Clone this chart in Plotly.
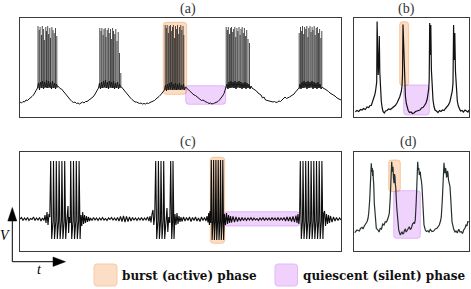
import plotly.graph_objects as go

W, H = 471, 289

# ---------------- data (t in s, V in mV) ----------------
# Panel (a): slow wave (incl. noisy burst plateaus)
a_trace = [
    (0.0,-59),(0.15,-60),(0.3,-58.5),(0.45,-59),(0.6,-57),(0.75,-57.5),(0.9,-56),(1.05,-55),(1.2,-53.5),(1.35,-52),(1.5,-49.5),(1.65,-47),
    (1.75,-45),(1.85,-40),(1.95,-47),(2.05,-39),(2.15,-45),(2.25,-38),(2.35,-46),(2.45,-39),(2.55,-44),(2.65,-37),(2.75,-45),(2.85,-38),(2.95,-44),(3.05,-39),(3.15,-46),(3.25,-38),(3.35,-45),(3.45,-40),(3.55,-46),(3.65,-41),(3.75,-44),
    (3.85,-43.5),(4.0,-45.5),(4.15,-46),(4.3,-48),(4.45,-49),(4.6,-51),(4.75,-53),(4.9,-55.5),(5.05,-57),(5.2,-58.5),(5.35,-59.5),(5.5,-59),(5.65,-60.5),(5.8,-60),(5.95,-61),(6.1,-60),(6.25,-59),(6.4,-60),(6.55,-58.5),(6.7,-58.5),(6.85,-57.5),(7.0,-56.5),(7.15,-55.5),(7.3,-54),(7.45,-52),(7.6,-49.5),(7.75,-46.5),
    (7.85,-45),(7.95,-40),(8.05,-46),(8.15,-39),(8.25,-45),(8.35,-38),(8.45,-44),(8.55,-37),(8.65,-45),(8.75,-39),(8.85,-46),(8.95,-38),(9.05,-44),(9.15,-39),(9.25,-45),(9.35,-38),(9.45,-46),(9.55,-40),(9.65,-45),(9.75,-39),(9.85,-46),(9.95,-41),(10.05,-44),
    (10.15,-44),(10.3,-46),(10.45,-47.5),(10.6,-49),(10.75,-51.5),(10.9,-53),(11.05,-55),(11.2,-56.5),(11.35,-57.5),(11.5,-59),(11.65,-59),(11.8,-60),(11.95,-60.5),(12.1,-60),(12.25,-61),(12.4,-60.5),(12.55,-61),(12.7,-60),(12.85,-60.5),(13.0,-59.5),(13.15,-59),(13.3,-58),(13.45,-57.5),(13.6,-56),(13.75,-55),(13.9,-53.5),(14.05,-52),(14.2,-50.5),(14.35,-48),
    (14.45,-47),(14.55,-42),(14.65,-48),(14.75,-41),(14.85,-47),(14.95,-40),(15.05,-46),(15.15,-39),(15.25,-47),(15.35,-41),(15.45,-46),(15.55,-40),(15.65,-47),(15.75,-41),(15.85,-46),(15.95,-40),(16.05,-47),(16.15,-42),(16.25,-46),(16.35,-41),(16.45,-47),(16.55,-44),
    (16.65,-45),(16.8,-46.5),(16.95,-48),(17.1,-49),(17.25,-50.5),(17.4,-52),(17.55,-52.5),(17.7,-54),(17.85,-55.5),(18.0,-56),(18.15,-57.5),(18.3,-57),(18.45,-58.5),(18.6,-59),(18.75,-59.5),(18.9,-60.5),(19.05,-60),(19.2,-61),(19.35,-60.5),(19.5,-60),(19.65,-59.5),(19.8,-58.5),(19.95,-57),(20.1,-55.5),(20.25,-53),(20.4,-50.5),(20.5,-47),
    (20.6,-46),(20.7,-41),(20.8,-46),(20.9,-39),(21.0,-45),(21.1,-38),(21.2,-44),(21.3,-39),(21.4,-45),(21.5,-38),(21.6,-46),(21.7,-39),(21.8,-44),(21.9,-38),(22.0,-45),(22.1,-39),(22.2,-46),(22.3,-40),(22.4,-45),(22.5,-39),(22.6,-46),(22.7,-40),(22.8,-45),(22.9,-41),(23.0,-46),(23.1,-43),
    (23.2,-45),(23.35,-46),(23.5,-47),(23.65,-48),(23.8,-50),(23.95,-51),(24.1,-52),(24.25,-55),(24.4,-54),(24.55,-57),(24.7,-57.5),(24.85,-58),(25.0,-58),(25.15,-58.5),(25.3,-59),(25.45,-58.5),(25.6,-59.5),(25.75,-59),(25.9,-58),(26.05,-58.5),(26.2,-57),(26.35,-56),(26.5,-54),(26.65,-55.5),(26.8,-55),(26.95,-54),(27.1,-53),(27.25,-52),(27.4,-51),(27.55,-49),(27.7,-47.5),(27.85,-45.5),
    (27.9,-46),(28.0,-41),(28.1,-46),(28.2,-39),(28.3,-45),(28.4,-38),(28.5,-44),(28.6,-39),(28.7,-46),(28.8,-38),(28.9,-45),(29.0,-39),(29.1,-44),(29.2,-38),(29.3,-46),(29.4,-39),(29.5,-45),(29.6,-40),(29.7,-46),(29.8,-39),(29.9,-45),(30.0,-41),(30.1,-46),(30.25,-44),
    (30.35,-45.5),(30.5,-46),(30.7,-47),(30.85,-48.5),(31.0,-50),(31.2,-51),(31.35,-52.5),(31.5,-53),(31.7,-55),(31.85,-56),(32.1,-57),
]
# Panel (a): spikes of each burst (times, peak voltages) and spike base per burst
a_spike_times = [
    [1.80,1.92,2.01,2.15,2.23,2.36,2.44,2.58,2.65,2.77,2.86,2.98,3.05,3.19,3.30,3.42,3.55,3.68],
    [7.98,8.10,8.19,8.31,8.40,8.52,8.60,8.72,8.83,8.92,9.05,9.14,9.26,9.35,9.48,9.58,9.70,9.82,9.95,10.08],
    [14.52,14.63,14.72,14.84,14.93,15.05,15.13,15.25,15.34,15.45,15.55,15.66,15.75,15.87,15.96,16.08,16.18,16.30,16.38],
    [20.62,20.74,20.83,20.95,21.06,21.15,21.27,21.36,21.48,21.57,21.69,21.78,21.90,22.01,22.10,22.22,22.33,22.44,22.56,22.67,22.80,22.95],
    [27.92,28.05,28.16,28.25,28.37,28.46,28.58,28.68,28.79,28.88,29.00,29.10,29.21,29.30,29.42,29.52,29.63,29.74,29.85,29.96,30.08,30.18],
]
a_spike_peaks = [
    [17,13,16,8,17,14,3,16,12,17,9,15,5,16,13,10,15,7],
    [15,12,15,8,14,15,6,13,15,10,14,4,15,12,9,14,2,11,-10,-30],
    [18,15,18,10,17,18,12,16,18,5,17,14,18,9,16,18,13,17,8],
    [16,13,16,9,15,16,11,14,16,6,15,12,16,8,14,16,10,15,7,13,4,0],
    [10,16,12,17,9,16,14,17,6,15,17,11,16,13,17,8,15,16,10,14,5,12],
]
a_spike_base = [-45, -45, -47, -45, -45]

# Panel (b)
b_trace = [
    (0.13,-68.7),(0.3,-67.5),(0.47,-68.5),(0.65,-66.5),(0.8,-67),(0.95,-65.5),(1.13,-66.5),(1.3,-64),(1.47,-64.5),(1.6,-62.5),(1.73,-62.5),(1.83,-60),(1.9,-58),(2.0,-54.5),(2.07,-52),(2.15,-48.5),(2.22,-45),(2.27,-39),
    (2.31,21.5),(2.36,-17),(2.42,-32),(2.49,-17),(2.53,7),(2.58,-29),(2.65,-47),(2.73,-58.5),(2.82,-65),(2.9,-68.5),(3.03,-70),(3.15,-68),(3.3,-67.5),(3.45,-66),(3.63,-66.5),(3.8,-65),(3.97,-64),(4.13,-62.5),(4.3,-60),(4.45,-57),(4.57,-54),(4.66,-51),(4.73,-48.5),(4.8,-43),(4.85,-32),
    (4.9,18.5),(4.94,3),(4.98,14.5),(5.02,-27),(5.08,-45),(5.14,-53),(5.23,-60.5),(5.32,-65),(5.42,-67.5),(5.55,-69.5),(5.7,-69),(5.85,-70.5),(6.0,-70),(6.15,-68.5),(6.3,-68),(6.45,-67),(6.6,-67),(6.75,-65),(6.9,-64.5),(7.05,-62.5),(7.2,-60),(7.32,-56),(7.4,-52),(7.47,-46),(7.52,-37),
    (7.57,20),(7.63,-12),(7.68,18),(7.74,-27),(7.82,-47),(7.9,-57),(8.0,-63.5),(8.1,-67),(8.25,-68),(8.4,-69.5),(8.55,-67.5),(8.7,-68.5),(8.85,-67),(9.0,-67.5),(9.15,-65.5),(9.3,-64),(9.45,-62),(9.6,-58.5),(9.73,-54),(9.83,-48),(9.9,-40),
    (9.96,18),(10.01,-17),(10.08,10),(10.15,-29),(10.23,-47),(10.33,-58),(10.43,-63),(10.53,-66),(10.65,-68),(10.8,-67.5),(10.95,-69),(11.1,-67),(11.25,-68.5),(11.4,-69),(11.5,-67),
]

# Panel (c)
c_trace = [
    (0.0,-42),(0.15,-40.5),(0.3,-43.5),(0.45,-41),(0.6,-43),(0.75,-40.5),(0.9,-43.5),(1.05,-41.5),(1.2,-42.5),(1.35,-40),(1.5,-43.5),(1.65,-41),(1.8,-43),(1.95,-40.5),(2.1,-44),(2.25,-41),(2.4,-43.5),(2.5,-38),(2.6,-46),(2.7,-35),(2.8,-48),(2.9,-37),(2.98,-40),
    (3.07,16),(3.17,-62),(3.30,-44),(3.35,16),(3.45,-62),(3.58,-44),(3.63,16),(3.73,-62),(3.86,-44),(3.91,16),(4.01,-62),(4.14,-44),(4.19,16),(4.29,-62),(4.42,-44),(4.47,16),(4.57,-62),
    (4.66,-46),(4.74,-38),(4.8,-29),(4.86,-56),(4.94,-40),(5.02,-46),
    (5.07,16),(5.17,-62),(5.30,-44),(5.35,16),(5.45,-62),(5.58,-44),(5.63,16),(5.73,-62),(5.86,-44),(5.91,16),(6.01,-62),
    (6.1,-38),(6.18,-49),(6.27,-35),(6.36,-47),(6.45,-38),(6.55,-46),(6.65,-39),(6.75,-45),(6.85,-40),(6.95,-44),
    (7.05,-41),(7.2,-43.5),(7.35,-40.5),(7.5,-43),(7.65,-41),(7.8,-43.5),(7.95,-41),(8.1,-43),(8.25,-40.5),(8.4,-43),(8.55,-41.5),(8.7,-43.5),(8.85,-41),(9.0,-42.5),(9.15,-40.5),(9.3,-43),(9.45,-41),(9.6,-43.5),(9.75,-40.5),(9.9,-44),(10.05,-39.5),(10.2,-44.5),(10.35,-39),(10.5,-45),(10.65,-39.5),(10.8,-44.5),(10.95,-40),(11.1,-44),(11.25,-40.5),(11.4,-43),(11.55,-41),(11.7,-43.5),(11.85,-41),(12.0,-43),(12.15,-40.5),(12.3,-43.5),(12.45,-41),(12.6,-43),(12.75,-40),(12.9,-44),(13.0,-39),(13.1,-45.5),(13.2,-37),(13.3,-33),(13.38,-48),(13.47,-40),
    (13.57,16),(13.67,-62),(13.79,-44),(13.84,16),(13.94,-62),(14.05,-44),(14.10,16),(14.20,-62),(14.32,-44),(14.37,16),(14.47,-62),
    (14.56,-45),(14.64,-37),(14.7,-31),(14.78,-55),(14.88,-40),(14.98,-46),
    (15.07,16),(15.17,-62),(15.26,-44),(15.30,16),(15.40,-62),
    (15.5,-37),(15.6,-48),(15.7,-36),(15.8,-47),(15.9,-39),(16.0,-45),(16.1,-40),(16.2,-44.5),
    (16.35,-40),(16.5,-44),(16.65,-40.5),(16.8,-43.5),(16.95,-40),(17.1,-44.5),(17.25,-40.5),(17.4,-43.5),(17.55,-40),(17.7,-44),(17.85,-41),(18.0,-44.5),(18.15,-40),(18.3,-43.5),(18.45,-40.5),(18.6,-44),(18.7,-39),(18.8,-45.5),(18.87,-36),(18.94,-48),(19.0,-34),(19.07,-46),
    (19.13,17),(19.21,-63),(19.31,-44),(19.36,17),(19.44,-63),(19.54,-44),(19.59,17),(19.67,-63),(19.77,-44),(19.82,17),(19.90,-63),(20.00,-44),(20.05,17),(20.13,-63),(20.23,-44),(20.28,17),(20.36,-63),
    (20.45,-37),(20.55,-48),(20.65,-36),(20.75,-47),(20.85,-38),(20.95,-46),(21.05,-39),(21.15,-45.5),(21.3,-39.5),(21.45,-45),(21.6,-40),(21.75,-44.5),(21.9,-40.5),(22.05,-44),(22.2,-40.5),(22.35,-43.5),
    (22.5,-41),(22.65,-43.5),(22.8,-41),(22.95,-43),(23.1,-40.5),(23.25,-43.5),(23.4,-41),(23.55,-43),(23.7,-41.5),(23.85,-43.5),(24.0,-41),(24.15,-43),(24.3,-40.5),(24.45,-43.5),(24.6,-41),(24.75,-43),(24.9,-41),(25.05,-43.5),(25.2,-40.5),(25.35,-43),(25.5,-41),(25.65,-43.5),(25.8,-40.5),(25.95,-43.5),(26.1,-41),(26.25,-43),(26.4,-40.5),(26.55,-44),(26.7,-40),(26.85,-44),(27.0,-40),(27.15,-44.5),(27.3,-39.5),(27.45,-45),(27.6,-38.5),(27.7,-46),(27.8,-37),(27.88,-47),(27.96,-40),
    (28.03,16),(28.13,-62),(28.25,-44),(28.30,16),(28.40,-62),(28.52,-44),(28.57,16),(28.67,-62),(28.79,-44),(28.84,16),(28.94,-62),(29.06,-44),(29.11,16),(29.21,-62),(29.33,-44),(29.38,16),(29.48,-62),(29.60,-44),(29.65,16),(29.75,-62),(29.87,-44),(29.92,16),(30.02,-62),(30.14,-44),(30.19,16),(30.29,-62),
    (30.38,-36),(30.46,-34),(30.55,-49),(30.65,-37),(30.75,-47),(30.85,-38),(30.95,-46),(31.05,-39),(31.2,-45),(31.35,-40),(31.5,-44),(31.65,-40.5),(31.8,-43.5),(31.95,-41),(32.1,-43),
]

# Panel (d)
d_trace = [
    (0.07,-55.7),(0.3,-53),(0.53,-54),(0.65,-51.5),(0.8,-50.3),(0.9,-52),(1.03,-49),(1.15,-47.5),(1.3,-44.7),(1.4,-41.5),(1.47,-36.3),(1.57,-23),(1.67,-3),
    (1.73,13.7),(1.78,5),(1.83,9),(1.87,1),(1.9,7),(1.94,-3),(1.97,-6.3),(2.03,-26.3),(2.13,-44.7),(2.23,-51.3),(2.4,-53),(2.5,-55),(2.63,-51.3),(2.75,-52),(2.87,-47),(3.0,-48),(3.13,-44.7),(3.25,-45),(3.4,-41.3),(3.53,-36.3),(3.63,-19.7),(3.7,0.3),
    (3.77,15.3),(3.83,5.3),(3.9,10.3),(3.95,-1),(4.0,-6.3),(4.05,3),(4.1,0.3),(4.14,-8),(4.17,-9.7),(4.27,-29.7),(4.37,-44.7),(4.47,-53),(4.63,-58),(4.7,-56),(4.8,-54.7),(4.9,-57),(4.97,-56.3),(5.05,-53),(5.13,-52.3),(5.22,-55),(5.3,-53.7),(5.42,-51),(5.53,-49.7),(5.63,-52.5),(5.73,-51.3),(5.85,-47),(5.97,-45.7),(6.05,-46.5),(6.13,-43),(6.23,-23),(6.3,0.3),
    (6.37,15.3),(6.43,7),(6.48,9),(6.53,2),(6.63,5.3),(6.68,-1),(6.73,-3),(6.8,-9.7),(6.9,-33),(7.0,-48),(7.13,-53),(7.25,-54.5),(7.4,-53.7),(7.5,-55),(7.63,-52.3),(7.8,-54.5),(7.97,-54),(8.13,-52),(8.3,-51.3),(8.42,-49),(8.53,-48),(8.65,-44),(8.73,-39.7),(8.83,-23),(8.93,-3),
    (9.0,14.3),(9.05,7),(9.1,3.7),(9.15,9),(9.2,7),(9.25,0),(9.3,0.3),(9.35,6),(9.4,3.7),(9.45,-3),(9.5,-4.7),(9.6,-9.7),(9.7,-26.3),(9.8,-44.7),(9.97,-52.3),(10.1,-55),(10.2,-54),(10.33,-56),(10.47,-52.3),(10.6,-55),(10.73,-54.7),(10.85,-56.5),(10.97,-53),(11.1,-51),(11.2,-48),(11.3,-49),(11.37,-44.7),(11.5,-45),
]

# Highlighted phases per panel: (t_start, t_end, V_low, V_high)
burst_phase = {"a": (14.33, 16.67, -51.3, 20.7), "b": (4.57, 5.47, -42.7, 21.3),
               "c": (19.03, 20.47, -66.3, 19.7), "d": (3.47, 4.63, -14.7, 17.0)}
quiet_phase = {"a": (16.57, 20.57, -61.3, -42.7), "b": (4.97, 7.53, -72.0, -42.0),
               "c": (20.4, 27.97, -49.0, -34.7), "d": (3.97, 6.63, -61.3, -13.7)}

panel_titles = ["(a)", "(b)", "(c)", "(d)"]
legend_labels = ["burst (active) phase", "quiescent (silent) phase"]

x_ranges = {"a": [0, 32.1], "b": [0, 11.5], "c": [0, 32.1], "d": [0, 11.5]}
y_range = [-74, 25]

# ---------------- figure ----------------
def px(x):
    return x / W

def py(y):
    return 1 - y / H

fig = go.Figure()
axes = {"a": ("x", "y"), "b": ("x2", "y2"), "c": ("x3", "y3"), "d": ("x4", "y4")}

def unzip(pairs):
    return [p[0] for p in pairs], [p[1] for p in pairs]

# (a) slow wave + spikes
at, av = unzip(a_trace)
fig.add_trace(go.Scatter(x=at, y=av, mode="lines", line=dict(color="#111", width=1), xaxis="x", yaxis="y"))
sx, sy = [], []
for times, peaks, base in zip(a_spike_times, a_spike_peaks, a_spike_base):
    for t, p in zip(times, peaks):
        sx += [t, t, None]
        sy += [base, p, None]
fig.add_trace(go.Scatter(x=sx, y=sy, mode="lines", line=dict(color="#1e1e1e", width=0.8), xaxis="x", yaxis="y"))

bt, bv = unzip(b_trace)
fig.add_trace(go.Scatter(x=bt, y=bv, mode="lines", line=dict(color="#111", width=1.2), xaxis="x2", yaxis="y2"))
ct, cv = unzip(c_trace)
fig.add_trace(go.Scatter(x=ct, y=cv, mode="lines", line=dict(color="#0d0d0d", width=1.1), xaxis="x3", yaxis="y3"))
dt, dv = unzip(d_trace)
fig.add_trace(go.Scatter(x=dt, y=dv, mode="lines", line=dict(color="#263030", width=1.2), xaxis="x4", yaxis="y4"))

domains = {
    "a": ([20, 341], [18, 117]),
    "b": ([354, 469], [18, 117]),
    "c": ([20, 341], [152, 251]),
    "d": ([354, 469], [152, 251]),
}
layout_axes = {}
for k, (xa, ya) in axes.items():
    (x0, x1), (y0, y1) = domains[k]
    common = dict(showline=True, mirror=True, linecolor="#3a3a3a", linewidth=1, showticklabels=False,
                  ticks="", showgrid=False, zeroline=False, fixedrange=True)
    xname = "xaxis" if xa == "x" else "xaxis" + xa[1:]
    yname = "yaxis" if ya == "y" else "yaxis" + ya[1:]
    layout_axes[xname] = dict(domain=[px(x0), px(x1)], range=x_ranges[k], anchor=ya, **common)
    layout_axes[yname] = dict(domain=[py(y1), py(y0)], range=y_range, anchor=xa, **common)

def rounded(x0, x1, y0, y1, rx, ry):
    return (f"M {x0+rx},{y0} L {x1-rx},{y0} Q {x1},{y0} {x1},{y0+ry} L {x1},{y1-ry} "
            f"Q {x1},{y1} {x1-rx},{y1} L {x0+rx},{y1} Q {x0},{y1} {x0},{y1-ry} L {x0},{y0+ry} "
            f"Q {x0},{y0} {x0+rx},{y0} Z")

shapes = []
OR_FILL, OR_LINE = "rgba(247,160,90,0.36)", "rgba(245,150,70,0.45)"
PU_FILL, PU_LINE = "rgba(205,110,245,0.30)", "rgba(195,105,240,0.40)"
for k, (xa, ya) in axes.items():
    (x0p, x1p), _ = domains[k]
    rx = 3 * (x_ranges[k][1] - x_ranges[k][0]) / (x1p - x0p)
    ry = 3 * (y_range[1] - y_range[0]) / 99
    for ph, fill, line in ((burst_phase[k], OR_FILL, OR_LINE), (quiet_phase[k], PU_FILL, PU_LINE)):
        t0, t1, v0, v1 = ph
        shapes.append(dict(type="path", path=rounded(t0, t1, v0, v1, rx, ry), xref=xa, yref=ya,
                           fillcolor=fill, line=dict(color=line, width=1), layer="below"))

# axis arrows (V, t)
shapes.append(dict(type="line", xref="paper", yref="paper", x0=px(12.3), y0=py(261.7), x1=px(12.3), y1=py(218),
                   line=dict(color="black", width=1)))
shapes.append(dict(type="path", xref="paper", yref="paper",
                   path=f"M {px(12.3)},{py(207.5)} L {px(7.8)},{py(221)} L {px(16.8)},{py(221)} Z",
                   fillcolor="black", line=dict(color="black", width=0.5)))
shapes.append(dict(type="line", xref="paper", yref="paper", x0=px(12.3), y0=py(261.7), x1=px(56), y1=py(261.7),
                   line=dict(color="black", width=1)))
shapes.append(dict(type="path", xref="paper", yref="paper",
                   path=f"M {px(65.5)},{py(261.7)} L {px(53)},{py(257)} L {px(53)},{py(266.4)} Z",
                   fillcolor="black", line=dict(color="black", width=0.5)))

# legend swatches
def paper_rounded(x0, x1, y0, y1, r=3):
    return rounded(px(x0), px(x1), py(y1), py(y0), r / W, r / H)

shapes.append(dict(type="path", xref="paper", yref="paper", path=paper_rounded(94, 117, 264, 286),
                   fillcolor="#FCDEC6", line=dict(color="#F7C9A3", width=1)))
shapes.append(dict(type="path", xref="paper", yref="paper", path=paper_rounded(275, 297.5, 264, 286),
                   fillcolor="#EFD1FB", line=dict(color="#E3B8F6", width=1)))

SERIF = "Liberation Serif, DejaVu Serif, serif"
annotations = []
title_pos = [(187.5, 9.5), (406.7, 9.5), (187.5, 142), (408.7, 141.5)]
for txt, (x, y) in zip(panel_titles, title_pos):
    annotations.append(dict(text=txt, x=px(x), y=py(y), xref="paper", yref="paper", showarrow=False,
                            xanchor="center", yanchor="middle", font=dict(family=SERIF, size=14, color="#333")))
annotations.append(dict(text="<i>V</i>", x=px(4.5), y=py(235), xref="paper", yref="paper", showarrow=False,
                        xanchor="center", yanchor="middle", font=dict(family=SERIF, size=14, color="black")))
annotations.append(dict(text="<i>t</i>", x=px(39.5), y=py(269.5), xref="paper", yref="paper", showarrow=False,
                        xanchor="center", yanchor="middle", font=dict(family=SERIF, size=14, color="black")))
for txt, x in zip(legend_labels, (119.5, 301)):
    annotations.append(dict(text=f"<b>{txt}</b>", x=px(x), y=py(275.5), xref="paper", yref="paper",
                            showarrow=False, xanchor="left", yanchor="middle",
                            font=dict(family="DejaVu Serif, serif", size=12, color="#111")))

fig.update_layout(width=W, height=H, autosize=False, margin=dict(l=0, r=0, t=0, b=0),
                  paper_bgcolor="white", plot_bgcolor="white", showlegend=False,
                  shapes=shapes, annotations=annotations, **layout_axes)

fig.write_html("out.html", config={"displayModeBar": False},
               post_script="document.body.style.margin='0';document.body.style.padding='0';")
